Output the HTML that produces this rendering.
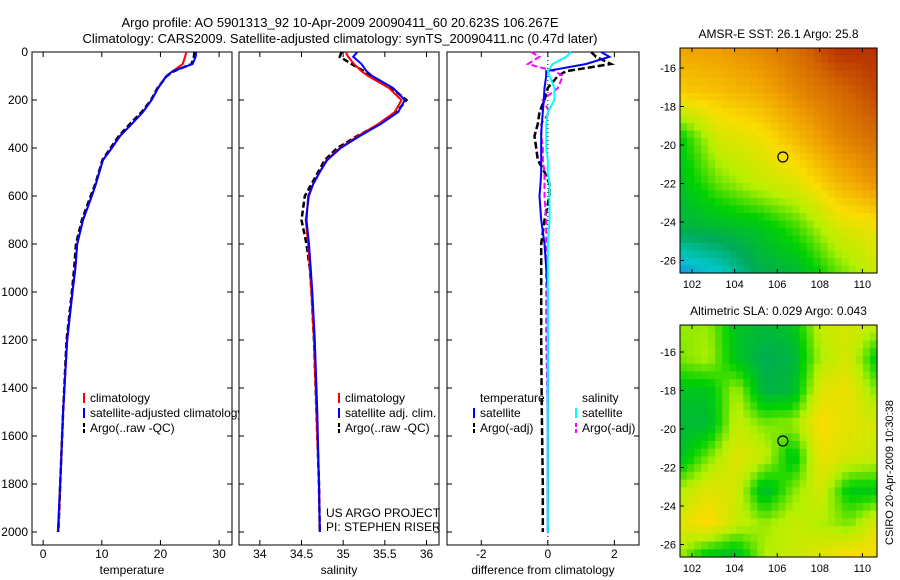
<!DOCTYPE html>
<html><head><meta charset="utf-8"><style>
body{margin:0;background:#fff;}
svg{display:block;font-family:"Liberation Sans",sans-serif;}
</style></head><body>
<svg id="fig" width="900" height="580" viewBox="0 0 900 580">
<text x="340" y="27" font-size="13" text-anchor="middle">Argo profile: AO 5901313_92 10-Apr-2009 20090411_60 20.623S 106.267E</text>
<text x="340" y="43" font-size="13" text-anchor="middle">Climatology: CARS2009. Satellite-adjusted climatology: synTS_20090411.nc (0.47d later)</text>
<g id="p1"></g>
<g id="p2"></g>
<g id="p3"></g>
<g id="m1"></g>
<g id="m2"></g>
<text x="0" y="0" font-size="11" transform="translate(893,545) rotate(-90)">CSIRO 20-Apr-2009 10:30:38</text>
</svg>
<script>
const depths=[0,20,50,80,100,150,200,250,300,350,400,450,500,550,600,700,800,900,1000,1200,1500,1800,2000];
const tempClim=[24.4,24.2,23.8,22.1,21.0,19.6,18.5,17.0,15.1,13.1,11.7,10.2,9.6,9.0,8.3,6.8,5.8,5.5,5.0,4.1,3.4,2.9,2.6];
const tempSat=[26.1,26.0,25.5,22.1,21.0,19.6,18.5,17.0,15.1,13.1,11.7,10.2,9.6,9.0,8.3,6.8,5.8,5.5,5.0,4.1,3.4,2.9,2.5];
const tempArgo=[25.8,25.7,25.3,22.3,21.1,19.5,18.4,16.8,14.8,12.9,11.5,10.1,9.5,8.9,8.1,6.6,5.6,5.3,4.9,4.0,3.4,2.9,2.6];
const salClim=[35.03,35.06,35.13,35.22,35.3,35.55,35.7,35.62,35.42,35.18,34.96,34.8,34.72,34.64,34.59,34.55,34.58,34.6,34.62,34.65,34.68,34.71,34.72];
const salSat=[35.17,35.12,35.22,35.28,35.35,35.6,35.74,35.66,35.45,35.2,34.97,34.81,34.72,34.64,34.58,34.56,34.59,34.61,34.63,34.66,34.69,34.71,34.72];
const salArgo=[34.98,34.96,35.1,35.25,35.33,35.58,35.76,35.64,35.44,35.17,34.93,34.78,34.7,34.62,34.54,34.5,34.56,34.6,34.62,34.65,34.68,34.71,34.72];
const dTempSat=[1.6,1.85,1.15,-0.05,-0.05,-0.1,-0.12,-0.15,-0.18,-0.2,-0.2,-0.2,-0.2,-0.22,-0.25,-0.2,-0.1,-0.05,0.0,0.0,0.0,0.0,0.0];
const dTempArgo=[1.3,1.45,1.9,0.55,0.3,0.0,-0.1,-0.25,-0.3,-0.4,-0.35,-0.3,-0.1,0.05,0.05,-0.1,-0.2,-0.2,-0.2,-0.2,-0.18,-0.15,-0.15];
const dSalSat=[0.7,0.55,0.15,0.0,0.05,0.2,0.2,0.0,-0.05,-0.05,-0.05,0.0,0.0,0.05,0.05,0.05,0.0,0.0,0.0,0.0,0.0,0.0,0.0];
const dSalArgo=[-0.5,-0.25,-0.6,0.2,0.45,0.3,-0.15,0.05,-0.2,-0.2,-0.15,-0.15,-0.1,-0.1,-0.1,-0.05,-0.05,-0.05,-0.05,-0.05,0.0,0.0,0.0];
const tempTicks=[0,10,20,30];
const salTicks=[34,34.5,35,35.5,36];
const diffTicks=[-2,0,2];
const depthTicks=[0,200,400,600,800,1000,1200,1400,1600,1800,2000];

const NS='http://www.w3.org/2000/svg';
function mk(tag,attrs,parent,txt){const e=document.createElementNS(NS,tag);for(const k in attrs)e.setAttribute(k,attrs[k]);if(txt!==undefined)e.textContent=txt;parent.appendChild(e);return e;}
const y0=52,y1=545;
function yD(d){return 52+d*0.24;}

function panel(g,x0,x1,xmin,xmax,xticks,xlabel,showY){
  const sx=v=>x0+(v-xmin)/(xmax-xmin)*(x1-x0);
  const r=mk('rect',{x:x0,y:y0,width:x1-x0,height:y1-y0,fill:'#fff',stroke:'#000','stroke-width':1},g);
  
  xticks.forEach(t=>{const x=sx(t);
    mk('line',{x1:x,y1:y1,x2:x,y2:y1-5,stroke:'#000'},g);mk('line',{x1:x,y1:y0,x2:x,y2:y0+5,stroke:'#000'},g);
    const tx=mk('text',{x:x,y:y1+13,'font-size':12,'text-anchor':'middle'},g,String(t));
    });
  depthTicks.forEach(d=>{const y=yD(d);
    mk('line',{x1:x0,y1:y,x2:x0+5,y2:y,stroke:'#000'},g);mk('line',{x1:x1,y1:y,x2:x1-5,y2:y,stroke:'#000'},g);
    if(showY){const tx=mk('text',{x:x0-4,y:y+4,'font-size':12,'text-anchor':'end'},g,String(d));
      }});
  const xl=mk('text',{x:(x0+x1)/2,y:y1+29,'font-size':12,'text-anchor':'middle'},g,xlabel);
  
  return sx;
}
function line(g,sx,vals,color,dash,name,w){
  const p=vals.map((v,i)=>sx(v).toFixed(1)+','+yD(depths[i]).toFixed(1)).join(' ');
  const l=mk('polyline',{points:p,fill:'none',stroke:color,'stroke-width':w||2,'stroke-dasharray':dash||'none'},g);
  
}
function legend(g,x,y,items){items.forEach((it,i)=>{const yy=y+i*15;
  mk('line',{x1:x,y1:yy-9,x2:x,y2:yy+1,stroke:it[1],'stroke-width':2,'stroke-dasharray':it[2]||'none'},g);
  const t=mk('text',{x:x+6,y:yy,'font-size':12},g,it[0]);
  });}

const g1=document.getElementById('p1');
const s1=panel(g1,32,232,-1.9,32.2,tempTicks,'temperature',true);
line(g1,s1,tempArgo,'#000','6,3','temp-argo-line',2.5);
line(g1,s1,tempClim,'#f00',null,'temp-climatology-line');
line(g1,s1,tempSat,'#00f',null,'temp-satellite-line');
legend(g1,84,402,[['climatology','#f00'],['satellite-adjusted climatology','#00f'],['Argo(..raw -QC)','#000','4,2']]);

const g2=document.getElementById('p2');
const s2=panel(g2,239,439,33.75,36.15,salTicks,'salinity',false);
line(g2,s2,salArgo,'#000','6,3','sal-argo-line',2.5);
line(g2,s2,salClim,'#f00',null,'sal-climatology-line');
line(g2,s2,salSat,'#00f',null,'sal-satellite-line');
legend(g2,339,402,[['climatology','#f00'],['satellite adj. clim.','#00f'],['Argo(..raw -QC)','#000','4,2']]);
let t=mk('text',{x:326,y:517,'font-size':12},g2,'US ARGO PROJECT');
t=mk('text',{x:326,y:531,'font-size':12},g2,'PI: STEPHEN RISER');

const g3=document.getElementById('p3');
const s3=panel(g3,447,639,-3.03,2.74,diffTicks,'difference from climatology',false);
mk('line',{x1:s3(0),y1:y0,x2:s3(0),y2:y1,stroke:'#000','stroke-dasharray':'1,3'},g3);
line(g3,s3,dTempArgo,'#000','7,3','diff-temp-argo-line',2.5);
line(g3,s3,dSalArgo,'#f0f','6,3','diff-sal-argo-line');
line(g3,s3,dTempSat,'#00f',null,'diff-temp-satellite-line');
line(g3,s3,dSalSat,'#0ff',null,'diff-sal-satellite-line');
legend(g3,474,402,[['temperature','none'],['satellite','#00f'],['Argo(-adj)','#000','4,2']]);
legend(g3,576,402,[['salinity','none'],['satellite','#0ff'],['Argo(-adj)','#f0f','4,2']]);

// maps
const lonTicks=[102,104,106,108,110];
const latTicks=[-16,-18,-20,-22,-24,-26];
const sstGrid=[
 [.74,.76,.80,.86,.95,.95],
 [.66,.68,.72,.80,.86,.92],
 [.36,.56,.60,.70,.80,.86],
 [.33,.45,.53,.58,.70,.78],
 [.28,.30,.33,.42,.56,.60],
 [.04,.12,.26,.30,.44,.54]];
const slaGrid=[
 [.48,.48,.33,.30,.33,.53,.56,.53],
 [.46,.50,.33,.26,.28,.50,.56,.35],
 [.33,.33,.50,.28,.30,.58,.60,.46],
 [.30,.30,.53,.46,.48,.63,.58,.56],
 [.32,.46,.58,.53,.33,.60,.56,.53],
 [.50,.58,.56,.30,.46,.56,.35,.35],
 [.58,.64,.53,.48,.53,.50,.46,.58],
 [.48,.33,.30,.50,.53,.58,.64,.62]];
const cols=[[30,130,240],[0,200,200],[0,170,90],[0,210,0],[180,240,0],[250,220,0],[240,160,0],[210,100,0],[165,15,0]];
function cmap(v){v=Math.max(0,Math.min(0.999,v));const f=v*(cols.length-1),i=Math.floor(f),r=f-i;
  const a=cols[i],b=cols[i+1];return 'rgb('+a.map((c,k)=>Math.round(c+(b[k]-c)*r)).join(',')+')';}
function interp(G,u,v){const R=G.length-1,C=G[0].length-1;const fy=v*R,fx=u*C;
  const i=Math.min(R-1,Math.floor(fy)),j=Math.min(C-1,Math.floor(fx));const a=fy-i,b=fx-j;
  return G[i][j]*(1-a)*(1-b)+G[i][j+1]*(1-a)*b+G[i+1][j]*a*(1-b)+G[i+1][j+1]*a*b;}
function map(g,x0,y0m,w,h,latRef,yRef,title,G){
  const sx=lo=>692+(lo-102)*21.3, sy=la=>yRef+(-16-la)*19.25;
  const n=28,m=30;
  for(let i=0;i<n;i++)for(let j=0;j<m;j++){
    const u=(i+0.5)/n,v=(j+0.5)/m;
    mk('rect',{x:x0+i*w/n,y:y0m+j*h/m,width:w/n+0.6,height:h/m+0.6,fill:cmap(interp(G,u,v))},g);}
  const fr=mk('rect',{x:x0,y:y0m,width:w,height:h,fill:'none',stroke:'#000'},g);
  
  lonTicks.forEach(lo=>{const x=sx(lo);mk('line',{x1:x,y1:y0m+h,x2:x,y2:y0m+h-4,stroke:'#000'},g);mk('line',{x1:x,y1:y0m,x2:x,y2:y0m+4,stroke:'#000'},g);
    const tx=mk('text',{x:x,y:y0m+h+15,'font-size':11,'text-anchor':'middle'},g,String(lo));
    });
  latTicks.forEach(la=>{const y=sy(la);mk('line',{x1:x0,y1:y,x2:x0+4,y2:y,stroke:'#000'},g);
    const tx=mk('text',{x:x0-4,y:y+4,'font-size':11,'text-anchor':'end'},g,String(la));
    });
  const tt=mk('text',{x:x0+w/2,y:y0m-10,'font-size':12,'text-anchor':'middle'},g,title);
  
  const c=mk('circle',{cx:sx(106.267),cy:sy(-20.623),r:5,fill:'none',stroke:'#000','stroke-width':1.2},g);
  
}
map(document.getElementById('m1'),680,48,197,225,-16,68,'AMSR-E SST: 26.1  Argo: 25.8',sstGrid);
map(document.getElementById('m2'),680,325,197,232,-16,352,'Altimetric SLA: 0.029  Argo: 0.043',slaGrid);
</script>
</body></html>
